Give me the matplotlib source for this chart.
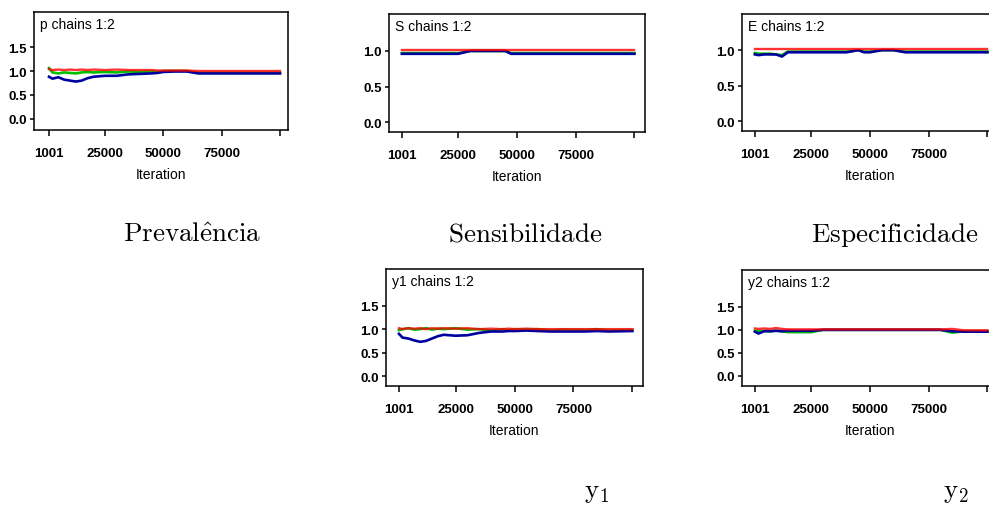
"""BGR convergence plots (WinBUGS style) for the five parameters."""
import matplotlib
matplotlib.use("Agg")
import matplotlib.pyplot as plt

plt.rcParams["mathtext.fontset"] = "cm"

W, H = 989, 506

# iteration grid shared by all panels
iters = [1001, 2500, 5000, 7500, 10000, 12500, 15000, 17500, 20000, 25000, 30000, 35000,
         40000, 45000, 47500, 50000, 55000, 60000, 65000, 70000, 80000, 85000, 90000, 100000]

# p
p_red = [1.04, 1.02, 1.03, 1.02, 1.03, 1.02, 1.03, 1.02, 1.03, 1.02, 1.03, 1.02,
         1.02, 1.02, 1.01, 1.01, 1.01, 1.01, 1.0, 1.0, 1.0, 1.0, 1.0, 1.0]
p_green = [1.06, 0.97, 0.95, 0.97, 0.96, 0.95, 0.97, 0.98, 0.97, 0.98, 0.97, 0.99,
           0.98, 0.99, 0.98, 1.0, 1.0, 1.0, 0.96, 0.96, 0.96, 0.96, 0.96, 0.96]
p_blue = [0.88, 0.84, 0.87, 0.82, 0.80, 0.78, 0.80, 0.85, 0.88, 0.90, 0.90, 0.93,
          0.94, 0.95, 0.96, 0.98, 0.99, 0.99, 0.95, 0.95, 0.95, 0.95, 0.95, 0.95]

# S
s_red = [1.01] * 24
s_green = [0.97, 0.97, 0.97, 0.97, 0.97, 0.97, 0.97, 0.97, 0.97, 0.97, 1.0, 1.0,
           1.0, 1.0, 0.97, 0.97, 0.97, 0.97, 0.97, 0.97, 0.97, 0.97, 0.97, 0.97]
s_blue = [0.96, 0.96, 0.96, 0.96, 0.96, 0.96, 0.96, 0.96, 0.96, 0.96, 1.0, 1.0,
          1.0, 1.0, 0.96, 0.96, 0.96, 0.96, 0.96, 0.96, 0.96, 0.96, 0.96, 0.96]

# E
e_red = [1.02] * 24
e_green = [0.96, 0.95, 0.95, 0.95, 0.94, 0.93, 0.98, 0.98, 0.98, 0.98, 0.98, 0.98,
           0.98, 1.0, 0.98, 0.98, 1.0, 1.0, 0.98, 0.98, 0.98, 0.98, 0.98, 0.98]
e_blue = [0.94, 0.93, 0.94, 0.94, 0.94, 0.91, 0.97, 0.97, 0.97, 0.97, 0.97, 0.97,
          0.97, 1.0, 0.97, 0.97, 1.0, 1.0, 0.97, 0.97, 0.97, 0.97, 0.97, 0.97]

# y1
y1_red = [1.02, 1.0, 1.02, 1.01, 1.02, 1.0, 1.02, 1.01, 1.02, 1.01, 1.02, 1.0,
          1.01, 1.0, 1.01, 1.0, 1.01, 1.0, 1.0, 1.0, 1.0, 1.0, 1.0, 1.0]
y1_green = [0.98, 1.0, 1.02, 0.99, 1.0, 1.02, 0.99, 1.01, 1.0, 1.02, 0.99, 1.0,
            0.97, 1.0, 0.98, 1.0, 0.99, 1.0, 0.97, 0.99, 0.98, 1.0, 0.97, 0.98]
y1_blue = [0.90, 0.82, 0.80, 0.76, 0.73, 0.75, 0.80, 0.85, 0.88, 0.86, 0.87, 0.92,
           0.95, 0.95, 0.96, 0.96, 0.97, 0.96, 0.95, 0.95, 0.95, 0.96, 0.95, 0.96]

# y2
y2_red = [1.03, 1.02, 1.03, 1.02, 1.04, 1.02, 1.01, 1.01, 1.01, 1.01, 1.01, 1.01,
          1.01, 1.01, 1.01, 1.01, 1.01, 1.01, 1.01, 1.01, 1.01, 1.02, 0.99, 0.99]
y2_green = [0.98, 0.97, 0.98, 0.97, 0.98, 0.97, 0.95, 0.95, 0.95, 0.95, 1.0, 1.0,
            1.0, 1.0, 1.0, 1.0, 1.0, 1.0, 1.0, 1.0, 1.0, 0.94, 0.97, 0.97]
y2_blue = [0.96, 0.92, 0.97, 0.97, 0.98, 0.97, 0.98, 0.98, 0.98, 0.98, 1.0, 1.0,
           1.0, 1.0, 1.0, 1.0, 1.0, 1.0, 1.0, 1.0, 1.0, 0.97, 0.96, 0.96]

xticks = [1001, 25000, 50000, 75000, 100000]
xtick_labels = ["1001", "25000", "50000", "75000", ""]

FONT = ["Liberation Sans", "DejaVu Sans"]


def rect(left, top, right, bottom):
    """Pixel box -> figure fraction [l, b, w, h]."""
    return [left / W, 1 - bottom / H, (right - left) / W, (bottom - top) / H]


def bgr_panel(fig, box, name, red, green, blue, yticks, ylim, xlim=(-4500, 104500)):
    ax = fig.add_axes(rect(*box))
    ax.plot(iters, green, color="#00c000", lw=1.9)
    ax.plot(iters, blue, color="#0000a0", lw=1.9)
    ax.plot(iters, red, color="#ff0000", lw=1.7, alpha=0.8)
    ax.set_xlim(*xlim)
    ax.set_ylim(*ylim)
    ax.set_xticks(xticks)
    ax.set_xticklabels(xtick_labels)
    ax.set_yticks(yticks)
    ax.set_yticklabels([f"{v:.1f}" for v in yticks])
    for lab in ax.get_xticklabels() + ax.get_yticklabels():
        lab.set_family(FONT)
        lab.set_fontweight("bold")
        lab.set_fontsize(9.5)
    ax.tick_params(axis="x", direction="out", length=4, width=1.1, pad=8)
    ax.tick_params(axis="y", direction="out", length=3, width=1.1, pad=2)
    for sp in ax.spines.values():
        sp.set_linewidth(1.1)
        sp.set_color("black")
    ax.set_xlabel("Iteration", family=FONT, fontsize=10, labelpad=6)
    width = box[2] - box[0]
    height = box[3] - box[1]
    ax.text(6 / width, 1 - 12 / height, f"{name} chains 1:2", transform=ax.transAxes,
            family=FONT, fontsize=10, va="center", ha="left")
    return ax


fig = plt.figure(figsize=(W / 100, H / 100), dpi=100)

bgr_panel(fig, (34, 13, 288, 131), "p", p_red, p_green, p_blue,
          [0.0, 0.5, 1.0, 1.5], (-0.23, 2.23), xlim=(-5430, 103430))
bgr_panel(fig, (389, 15, 645, 133), "S", s_red, s_green, s_blue,
          [0.0, 0.5, 1.0], (-0.14, 1.52))
bgr_panel(fig, (742, 15, 998, 132), "E", e_red, e_green, e_blue,
          [0.0, 0.5, 1.0], (-0.14, 1.51))
bgr_panel(fig, (386, 270, 643, 387), "y1", y1_red, y1_green, y1_blue,
          [0.0, 0.5, 1.0, 1.5], (-0.21, 2.28))
bgr_panel(fig, (742, 271, 998, 387), "y2", y2_red, y2_green, y2_blue,
          [0.0, 0.5, 1.0, 1.5], (-0.22, 2.30))

captions = [(192, 235, r"$\mathrm{Preval\hat{e}ncia}$"),
            (525, 235, r"$\mathrm{Sensibilidade}$"),
            (895, 235, r"$\mathrm{Especificidade}$"),
            (597, 492, r"$\mathrm{y}_1$"),
            (956, 492, r"$\mathrm{y}_2$")]
for cx, cy, txt in captions:
    fig.text(cx / W, 1 - cy / H, txt, ha="center", va="center", fontsize=19.5)

plt.savefig("out.png", dpi=100)
plt.close()
